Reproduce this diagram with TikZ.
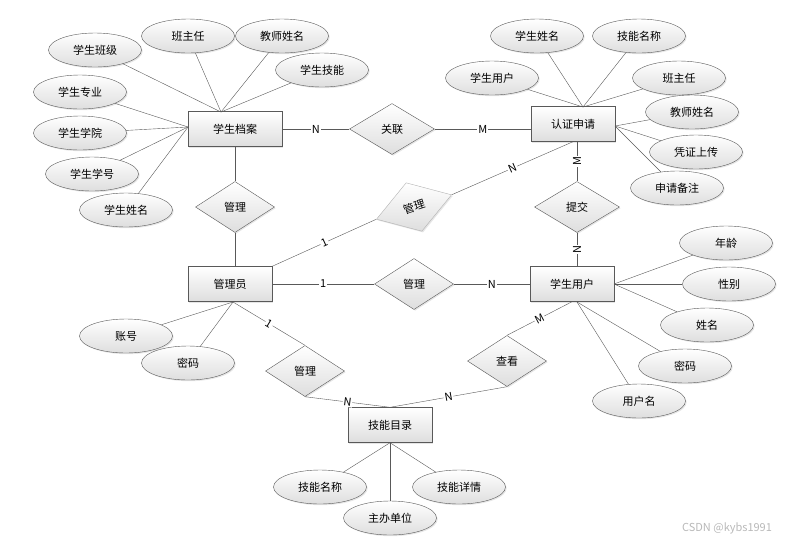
\documentclass[tikz,border=0pt]{standalone}
\usepackage{fontspec}
\setmainfont{Noto Sans CJK SC}
\usepackage{tikz}
\usetikzlibrary{shapes.geometric,shadows}

\begin{document}
\begin{tikzpicture}[x=1pt,y=-1pt,font=\fontsize{11}{13}\selectfont,
  box/.style={draw=black!65,top color=white,bottom color=black!13,inner sep=0pt,
    drop shadow={opacity=.2,shadow xshift=1.2pt,shadow yshift=-1.2pt}},
  entity/.style={box,rectangle,minimum width=84pt,minimum height=35pt},
  attr/.style={box,ellipse,minimum width=93pt,minimum height=34pt},
  rel/.style={box,diamond,minimum width=79pt,minimum height=51pt},
  card/.style={fill=white,inner sep=1pt},
  link/.style={draw=black!65}]
\useasboundingbox (0,0) rectangle (798,542);

\node[entity,minimum width=94pt] (dangan) at (235,129) {学生档案};
\node[entity] (renzheng) at (573,124) {认证申请};
\node[entity] (admin) at (230,284) {管理员};
\node[entity] (user) at (572,284) {学生用户};
\node[entity] (skill) at (390,425) {技能目录};

\node[rel,minimum width=85pt] (guanlian) at (392,129) {关联};
\node[rel] (guanli1) at (235,207) {管理};
\node[rel,rotate=18,draw=black!30] (guanli2) at (414,207) {管理};
\node[rel,minimum width=85pt] (tijiao) at (577,207) {提交};
\node[rel] (guanli3) at (414,284) {管理};
\node[rel] (guanli4) at (305,371) {管理};
\node[rel] (chakan) at (507,361) {查看};

\node[attr] (da1) at (95,50) {学生班级};
\node[attr] (da2) at (188,36) {班主任};
\node[attr] (da3) at (282,36) {教师姓名};
\node[attr] (da4) at (322,70) {学生技能};
\node[attr] (da5) at (80,92) {学生专业};
\node[attr] (da6) at (80,133) {学生学院};
\node[attr] (da7) at (92,174) {学生学号};
\node[attr] (da8) at (126,210) {学生姓名};

\node[attr] (rz1) at (492,78) {学生用户};
\node[attr] (rz2) at (537,36) {学生姓名};
\node[attr] (rz3) at (639,36) {技能名称};
\node[attr] (rz4) at (679,78) {班主任};
\node[attr] (rz5) at (692,112) {教师姓名};
\node[attr] (rz6) at (696,152) {凭证上传};
\node[attr] (rz7) at (677,188) {申请备注};

\node[attr] (yh1) at (726,243) {年龄};
\node[attr] (yh2) at (729,284) {性别};
\node[attr] (yh3) at (707,325) {姓名};
\node[attr] (yh4) at (685,366) {密码};
\node[attr] (yh5) at (639,401) {用户名};

\node[attr] (ad1) at (126,336) {账号};
\node[attr] (ad2) at (188,363) {密码};

\node[attr] (jm1) at (320,487) {技能名称};
\node[attr] (jm2) at (390,518) {主办单位};
\node[attr] (jm3) at (459,487) {技能详情};

\coordinate (da-t) at (221,112);
\coordinate (da-l) at (188,127);
\coordinate (rz-t) at (583,107);
\coordinate (rz-r) at (615,126);
\coordinate (yh-r) at (614,284);
\coordinate (yh-b) at (577,302);
\coordinate (ad-b) at (233,302);

\foreach \a in {da1,da2,da3,da4} \draw[link] (\a) -- (da-t);
\foreach \a in {da5,da6,da7,da8} \draw[link] (\a) -- (da-l);
\foreach \a in {rz1,rz2,rz3,rz4} \draw[link] (\a) -- (rz-t);
\foreach \a in {rz5,rz6,rz7} \draw[link] (\a) -- (rz-r);
\foreach \a in {yh1,yh2,yh3} \draw[link] (\a) -- (yh-r);
\foreach \a in {yh4,yh5} \draw[link] (\a) -- (yh-b);
\foreach \a in {ad1,ad2} \draw[link] (\a) -- (ad-b);
\foreach \a in {jm1,jm2,jm3} \draw[link] (\a) -- (skill.south);

\draw[link] (dangan) -- node[card]{N} (guanlian);
\draw[link] (guanlian.east) -- node[card]{M} (guanlian.east -| renzheng.west);
\draw[link] (dangan) -- (guanli1);
\draw[link] (guanli1) -- (guanli1 |- admin.north);
\draw[link] (admin) -- node[card]{1} (guanli3);
\draw[link] (guanli3) -- node[card]{N} (user);
\draw[link] (tijiao |- renzheng.south) -- node[card,rotate=90]{M} (tijiao);
\draw[link] (tijiao) -- node[card,rotate=90]{N} (tijiao |- user.north);
\draw[link] (admin.north east) -- node[card,sloped]{1} (guanli2.west);
\draw[link] (guanli2.east) -- node[card,sloped]{N} (renzheng.south);
\draw[link] (ad-b) -- node[card,sloped]{1} (guanli4.north);
\draw[link] (guanli4.south) -- node[card,sloped]{N} (skill.north);
\draw[link] (user.south) -- node[card,sloped]{M} (chakan.north);
\draw[link] (chakan.south) -- node[card,sloped]{N} (skill.north);

\node[text=black!28] (mark) at (727,528) {CSDN @kybs1991};
\end{tikzpicture}
\end{document}
